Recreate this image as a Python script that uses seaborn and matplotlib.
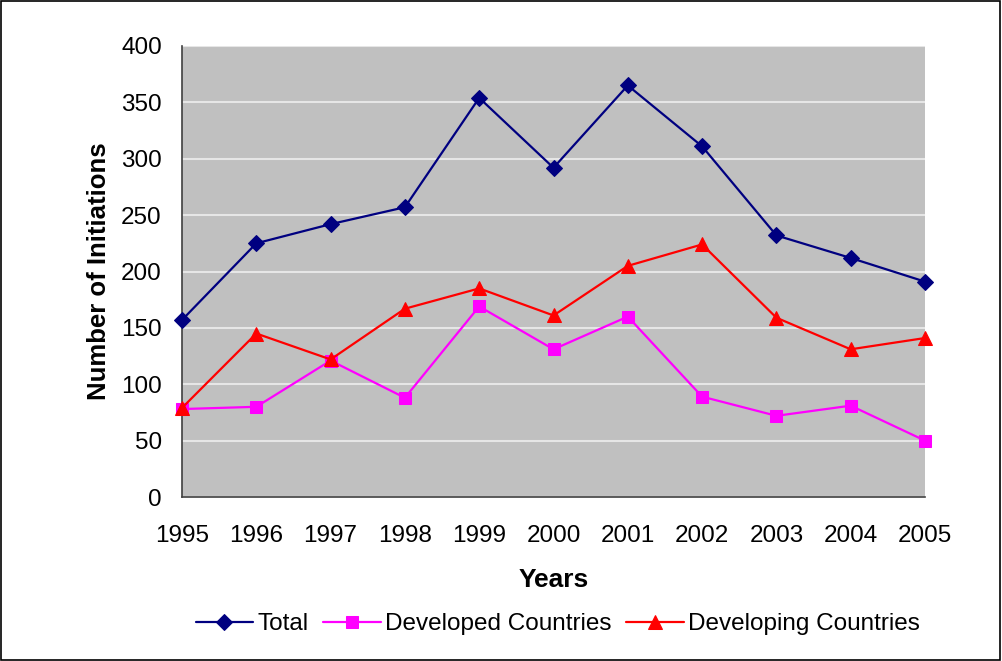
import matplotlib
matplotlib.use("Agg")
import matplotlib.pyplot as plt
import seaborn as sns
import pandas as pd
from matplotlib.patches import Rectangle

years = [1995, 1996, 1997, 1998, 1999, 2000, 2001, 2002, 2003, 2004, 2005]
total = [157, 225, 242, 257, 354, 292, 365, 311, 232, 212, 191]
developed = [78, 80, 121, 88, 169, 131, 160, 89, 72, 81, 50]
developing = [79, 145, 122, 167, 185, 161, 205, 224, 159, 131, 141]

series_names = ["Total", "Developed Countries", "Developing Countries"]
series_values = [total, developed, developing]
colors = ["#000080", "#FF00FF", "#FF0000"]
markers = ["D", "s", "^"]
msizes = [8.5, 9, 10.5]

sns.set_style("white")
plt.rcParams["font.family"] = ["Liberation Sans", "DejaVu Sans"]
plt.rcParams["text.color"] = "black"
plt.rcParams["axes.labelcolor"] = "black"

fig = plt.figure(figsize=(10.02, 6.61), dpi=100)
ax = fig.add_axes([182 / 1002, 1 - 497 / 661, (925 - 182) / 1002, (497 - 46) / 661])
ax.set_facecolor("#C0C0C0")

for name, vals, c, m, ms in zip(series_names, series_values, colors, markers, msizes):
    df = pd.DataFrame({"Year": years, "Value": vals})
    sns.lineplot(data=df, x="Year", y="Value", ax=ax, color=c, marker=m,
                 markersize=ms, markeredgecolor=c, linewidth=1.6, label=name,
                 zorder=3, clip_on=False)

ax.set_xlim(1995, 2005)
ax.set_ylim(0, 400)
ax.set_xticks(years)
ax.set_xticklabels([str(y) for y in years])
ax.set_yticks(range(0, 401, 50))
ax.yaxis.grid(True, color="#E6E6E6", linewidth=1.5, zorder=1)
ax.xaxis.grid(False)
ax.set_axisbelow(True)

for s in ["top", "right"]:
    ax.spines[s].set_visible(False)
for s in ["left", "bottom"]:
    ax.spines[s].set_color("#404040")
    ax.spines[s].set_linewidth(1.2)

ax.tick_params(axis="both", which="major", direction="out", length=4.5, width=1,
               color="#404040", labelsize=17.5, labelcolor="black")
ax.tick_params(axis="y", pad=10)
ax.tick_params(axis="x", pad=16)

ax.set_xlabel("Years", fontsize=19, fontweight="bold", labelpad=15)
ax.set_ylabel("Number of Initiations", fontsize=18.5, fontweight="bold", labelpad=7)

leg = ax.legend(loc="center", bbox_to_anchor=(558 / 1002, (661 - 624) / 661), bbox_transform=fig.transFigure,
                ncol=3, frameon=False, fontsize=17.5, handlelength=2.35, columnspacing=0.6,
                handletextpad=0.2)

fig.patches.append(Rectangle((0.001, 0.002), 0.997, 0.996, transform=fig.transFigure,
                             fill=False, edgecolor="black", linewidth=1.2))

fig.savefig("out.png", dpi=100, facecolor="white")
